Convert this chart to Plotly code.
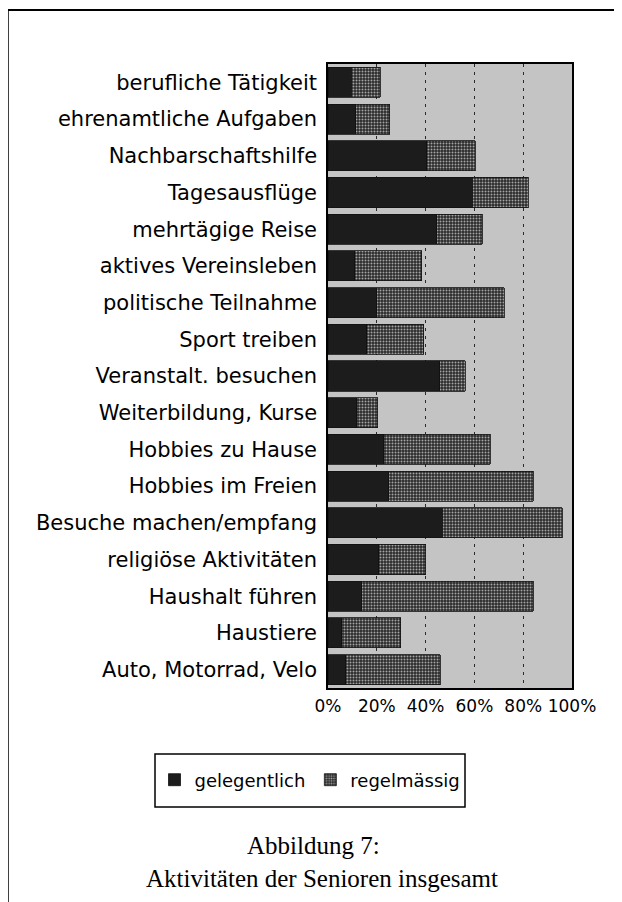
import plotly.graph_objects as go

categories = [
    "berufliche Tätigkeit", "ehrenamtliche Aufgaben", "Nachbarschaftshilfe",
    "Tagesausflüge", "mehrtägige Reise", "aktives Vereinsleben",
    "politische Teilnahme", "Sport treiben", "Veranstalt. besuchen",
    "Weiterbildung, Kurse", "Hobbies zu Hause", "Hobbies im Freien",
    "Besuche machen/empfang", "religiöse Aktivitäten", "Haushalt führen",
    "Haustiere", "Auto, Motorrad, Velo",
]
gelegentlich = [9.5, 11.4, 40.4, 59.2, 44.5, 11.0, 20.0, 15.9, 45.7, 11.8,
                22.9, 24.9, 46.9, 20.8, 13.9, 5.7, 7.3]
regelmaessig = [12.0, 14.0, 20.0, 22.8, 18.8, 27.4, 52.2, 23.3, 10.6, 8.6,
                43.6, 59.2, 49.0, 19.2, 70.2, 24.1, 38.8]
tick_vals = [0, 20, 40, 60, 80, 100]
tick_text = ["0%", "20%", "40%", "60%", "80%", "100%"]

# page body has an 8px margin; figure coords = reference coords - 8
OFF = 8
W, H = 614, 894
L, R, T, B = 320, 50, 56, 214
pw, ph = W - L - R, H - T - B


def px(x):
    return (x - OFF - L) / pw


def py(y):
    return (H - B - (y - OFF)) / ph


SANS = "DejaVu Sans, Verdana, sans-serif"
SERIF = "Liberation Serif, Times New Roman, serif"

fig = go.Figure()
fig.add_trace(go.Bar(
    y=categories, x=gelegentlich, orientation="h", name="gelegentlich",
    marker=dict(color="#1c1c1c", line=dict(color="#111", width=0.8)),
))
fig.add_trace(go.Bar(
    y=categories, x=regelmaessig, orientation="h", name="regelmässig",
    marker=dict(color="#383838", line=dict(color="#111", width=0.8),
                pattern=dict(shape=".", fillmode="replace", bgcolor="#2a2a2a",
                             fgcolor="#a4a4a4", size=3, solidity=0.35)),
))

fig.update_layout(
    width=W, height=H, barmode="stack", bargap=0.18,
    margin=dict(l=L, r=R, t=T, b=B, pad=0),
    paper_bgcolor="white", plot_bgcolor="#c4c4c4",
    font=dict(family=SANS, size=21, color="black"),
    xaxis=dict(range=[0, 100], tickvals=tick_vals, ticktext=tick_text,
               showgrid=True, gridcolor="#2a2a2a", griddash="3px,5px",
               gridwidth=1, showline=True, linecolor="black", linewidth=1.5,
               mirror=True, ticks="", ticklabelstandoff=2,
               tickfont=dict(size=17), zeroline=False),
    yaxis=dict(autorange="reversed", showline=True, linecolor="black",
               linewidth=1.5, mirror=True, ticks="", ticklabelstandoff=5,
               tickfont=dict(size=21)),
    showlegend=True,
    legend=dict(orientation="h", x=px(310), y=py(780), xanchor="center",
                yanchor="middle", borderwidth=0, bgcolor="rgba(0,0,0,0)",
                font=dict(size=18), traceorder="normal", itemwidth=30),
    shapes=[
        dict(type="rect", xref="paper", yref="paper",
             x0=px(155), x1=px(465), y0=py(807), y1=py(754),
             line=dict(color="black", width=1.5), fillcolor="white",
             layer="below"),
        dict(type="line", xref="paper", yref="paper",
             x0=px(8), x1=px(640), y0=py(10), y1=py(10),
             line=dict(color="black", width=2.2)),
        dict(type="line", xref="paper", yref="paper",
             x0=px(8), x1=px(8), y0=py(10), y1=py(910),
             line=dict(color="black", width=1.5)),
    ],
    annotations=[
        dict(text="Abbildung 7:", x=px(313), y=py(845), xref="paper",
             yref="paper", showarrow=False, xanchor="center", yanchor="middle",
             font=dict(family=SERIF, size=25)),
        dict(text="Aktivitäten der Senioren insgesamt", x=px(322), y=py(878),
             xref="paper", yref="paper", showarrow=False, xanchor="center",
             yanchor="middle", font=dict(family=SERIF, size=25)),
    ],
)

fig.write_html("out.html")
